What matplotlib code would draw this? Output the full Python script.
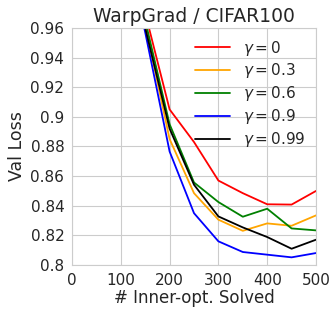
import matplotlib
matplotlib.use("Agg")
import matplotlib.pyplot as plt
import seaborn as sns

sns.set_style("whitegrid")

steps = [100, 150, 200, 250, 300, 350, 400, 450, 500]
loss_g0 = [1.05, 0.970, 0.905, 0.883, 0.857, 0.8485, 0.841, 0.8408, 0.850]
loss_g03 = [1.04, 0.962, 0.885, 0.8485, 0.8306, 0.8231, 0.8281, 0.8265, 0.8335]
loss_g06 = [1.04, 0.965, 0.895, 0.8557, 0.8425, 0.8326, 0.838, 0.8247, 0.8234]
loss_g09 = [1.03, 0.957, 0.8766, 0.835, 0.816, 0.8088, 0.807, 0.8052, 0.8081]
loss_g099 = [1.035, 0.960, 0.892, 0.8542, 0.8328, 0.8254, 0.8189, 0.811, 0.8171]

series = [
    (loss_g0, "red", r"$\gamma = 0$"),
    (loss_g03, "orange", r"$\gamma = 0.3$"),
    (loss_g06, "green", r"$\gamma = 0.6$"),
    (loss_g09, "blue", r"$\gamma = 0.9$"),
    (loss_g099, "black", r"$\gamma = 0.99$"),
]

fig = plt.figure(figsize=(3.34, 3.10), dpi=100)
ax = fig.add_axes([0.2156, 0.145, 0.7305, 0.765])

for vals, col, lab in series:
    ax.plot(steps, vals, color=col, label=lab, linewidth=1.3)

ax.set_xlim(0, 500)
ax.set_ylim(0.8, 0.96)
ax.set_xticks([0, 100, 200, 300, 400, 500])
ax.set_yticks([0.8, 0.82, 0.84, 0.86, 0.88, 0.9, 0.92, 0.94, 0.96])
ax.set_yticklabels(["0.8", "0.82", "0.84", "0.86", "0.88", "0.9", "0.92", "0.94", "0.96"])
ax.tick_params(labelsize=11, colors=".15", pad=2)
ax.set_title("WarpGrad / CIFAR100", fontsize=13.5, color=".15", pad=4)
ax.set_xlabel("# Inner-opt. Solved", fontsize=12, color=".15", labelpad=1)
ax.set_ylabel("Val Loss", fontsize=12.5, color=".15", labelpad=3)

leg = ax.legend(loc="upper right", frameon=False, fontsize=11, handlelength=2.3,
                labelspacing=0.25, borderaxespad=0.3)
for t in leg.get_texts():
    t.set_color(".15")

fig.savefig("out.png", dpi=100)
